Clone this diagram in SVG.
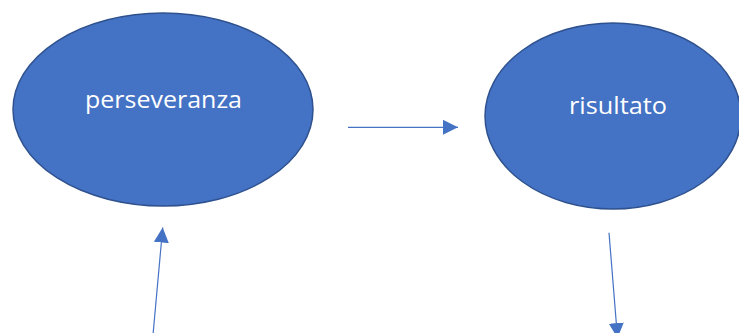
<svg xmlns="http://www.w3.org/2000/svg" width="739" height="333" viewBox="0 0 739 333">
<style>
.node{fill:#4472C4;stroke:#2F528F;stroke-width:1.5}
.lbl{fill:#FFFFFF;font-family:"Open Sans","Liberation Sans",sans-serif;font-size:24px;text-anchor:middle}
.conn{stroke:#4472C4;stroke-width:1.2;fill:none;marker-end:url(#ah)}
</style>
<defs>
<marker id="ah" viewBox="0 0 10 10" refX="10" refY="5" markerWidth="15" markerHeight="15" markerUnits="userSpaceOnUse" orient="auto">
<path d="M0,0 L10,5 L0,10 Z" fill="#4472C4"/>
</marker>
</defs>
<rect width="739" height="333" fill="#FFFFFF"/>
<g id="perseveranza">
<ellipse class="node" cx="163" cy="109.5" rx="150" ry="96.5"/>
<text class="lbl" x="163.5" y="108" textLength="157" lengthAdjust="spacingAndGlyphs">perseveranza</text>
</g>
<g id="risultato">
<ellipse class="node" cx="613" cy="116" rx="128" ry="93"/>
<text class="lbl" x="618" y="114" textLength="98" lengthAdjust="spacingAndGlyphs">risultato</text>
</g>
<g id="connectors">
<line class="conn" x1="348" y1="127.3" x2="458" y2="127.3"/>
<line class="conn" x1="153" y1="335" x2="162.7" y2="227.5"/>
<line class="conn" x1="609" y1="232.7" x2="617.5" y2="338"/>
</g>
</svg>
